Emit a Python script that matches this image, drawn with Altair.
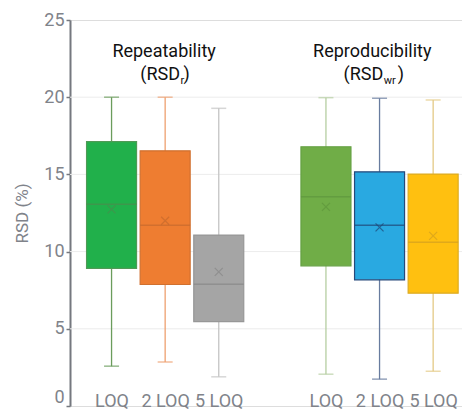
import altair as alt
import pandas as pd

# Box-plot summary statistics per concentration level
levels = ["LOQ", "2 LOQ", "5 LOQ", "LOQ", "2 LOQ", "5 LOQ"]
slot = [0, 1, 2, 4, 5, 6]          # category index on the x axis (slot 3 left empty)
whisker_low = [2.58, 2.85, 1.89, 2.06, 1.74, 2.25]
q1 = [8.91, 7.87, 5.47, 9.08, 8.17, 7.31]
median = [13.06, 11.70, 7.89, 13.55, 11.70, 10.60]
q3 = [17.12, 16.53, 11.07, 16.79, 15.17, 15.02]
whisker_high = [20.0, 20.0, 19.28, 19.97, 19.93, 19.82]
mean = [12.73, 12.00, 8.69, 12.90, 11.57, 11.02]

fill_colors = ["#21b04b", "#ee7d31", "#a5a5a5", "#70ad47", "#29a9e1", "#ffc010"]
edge_colors = ["#4f9a55", "#d0702f", "#979797", "#64a042", "#27497a", "#ddab22"]
median_colors = ["#4a8d4d", "#c66a2d", "#878787", "#5e963d", "#1f4676", "#d3a020"]
whisker_colors = ["#6b9c5c", "#eea070", "#c4c4c4", "#b6cea2", "#687c9f", "#e4ca86"]

grid_values = [5, 10, 15, 20]
y_ticks = [0, 5, 10, 15, 20, 25]
axis_labels = ["LOQ", "2 LOQ", "5 LOQ", "", "LOQ", "2 LOQ", "5 LOQ"]

df = pd.DataFrame({
    "level": levels, "slot": slot, "lo": whisker_low, "q1": q1, "med": median,
    "q3": q3, "hi": whisker_high, "mean": mean,
    "fill": fill_colors, "edge": edge_colors, "medc": median_colors, "wc": whisker_colors,
})

FONT = "Roboto"
AXIS_GRAY = "#75787f"
LABEL_GRAY = "#80838a"

label_expr = "[" + ",".join("'" + s + "'" for s in axis_labels) + "][datum.value]"

xscale = alt.Scale(domain=[-0.682, 6.445], nice=False, zero=False)
yscale = alt.Scale(domain=[0, 25], nice=False)

x_axis = alt.X(
    "slot:Q", scale=xscale,
    axis=alt.Axis(values=slot, labelExpr=label_expr, domain=False, ticks=False,
                  grid=False, title=None, offset=-14, labelPadding=0,
                  labelFont=FONT, labelFontSize=18, labelColor=LABEL_GRAY),
)
y_axis = alt.Y(
    "lo:Q", scale=yscale,
    axis=alt.Axis(values=y_ticks, grid=False, title="RSD (%)",
                  domainColor=AXIS_GRAY, domainWidth=2, tickColor=AXIS_GRAY,
                  tickSize=4, tickWidth=1.5, labelPadding=2,
                  labelBaseline={"condition": {"test": "datum.value === 0", "value": "bottom"},
                                 "value": "middle"},
                  labelFont=FONT, labelFontSize=18, labelColor=LABEL_GRAY,
                  titleFont=FONT, titleFontSize=17, titleFontWeight="normal",
                  titleColor=LABEL_GRAY, titlePadding=12),
)

base = alt.Chart(df)

grid = alt.Chart(pd.DataFrame({"g": grid_values})).mark_rule(
    color="#ececec", strokeWidth=1
).encode(y=alt.Y("g:Q", scale=yscale))

whisker = base.mark_rule(strokeWidth=1.3).encode(
    x=x_axis, y=y_axis, y2="hi:Q", color=alt.Color("wc:N", scale=None)
)
cap_lo = base.mark_tick(orient="horizontal", size=15, thickness=1.5).encode(
    x=alt.X("slot:Q", scale=xscale), y=alt.Y("lo:Q", scale=yscale),
    color=alt.Color("wc:N", scale=None)
)
cap_hi = base.mark_tick(orient="horizontal", size=15, thickness=1.5).encode(
    x=alt.X("slot:Q", scale=xscale), y=alt.Y("hi:Q", scale=yscale),
    color=alt.Color("wc:N", scale=None)
)
box = base.mark_bar(size=50, strokeWidth=1.2).encode(
    x=alt.X("slot:Q", scale=xscale), y=alt.Y("q1:Q", scale=yscale), y2="q3:Q",
    fill=alt.Fill("fill:N", scale=None), stroke=alt.Stroke("edge:N", scale=None)
)
med = base.mark_tick(orient="horizontal", size=50, thickness=1.5).encode(
    x=alt.X("slot:Q", scale=xscale), y=alt.Y("med:Q", scale=yscale),
    color=alt.Color("medc:N", scale=None)
)
mean_mark = base.mark_point(
    shape="M-1,-1L1,1M-1,1L1,-1", size=64, filled=False, strokeWidth=1.2
).encode(
    x=alt.X("slot:Q", scale=xscale), y=alt.Y("mean:Q", scale=yscale),
    stroke=alt.Stroke("medc:N", scale=None)
)


# Group headings, with the subscript drawn as a smaller separate piece
def heading(xv, text, dx=0, dy=0, size=18, align="center"):
    return alt.Chart(pd.DataFrame({"t": [text]})).mark_text(
        font=FONT, fontSize=size, color="#111111", align=align, dx=dx, dy=dy
    ).encode(x=alt.X(datum=xv, scale=xscale),
             y=alt.Y(datum=22.95, scale=yscale), text="t:N")


rep_x = 0.98
rpd_x = 4.864
titles = [
    heading(rep_x, "Repeatability"),
    heading(rep_x, "(RSD", dx=16, dy=23, align="right"),
    heading(rep_x, "r", dx=16.5, dy=29, size=11, align="left"),
    heading(rep_x, ")", dx=19.5, dy=23, align="left"),
    heading(rpd_x, "Reproducibility"),
    heading(rpd_x, "(RSD", dx=11, dy=23, align="right"),
    heading(rpd_x, "wr", dx=11.5, dy=29, size=11, align="left"),
    heading(rpd_x, ")", dx=25.5, dy=23, align="left"),
]

chart = alt.layer(
    grid, whisker, cap_lo, cap_hi, box, med, mean_mark, *titles
).properties(
    width=392, height=386,
    padding={"left": 70, "top": 20, "right": 0, "bottom": 7},
    autosize=alt.AutoSizeParams(type="none"),
).configure_view(stroke=None).configure(background="white")

chart.save("out.html", embed_options={"renderer": "svg", "actions": False})
